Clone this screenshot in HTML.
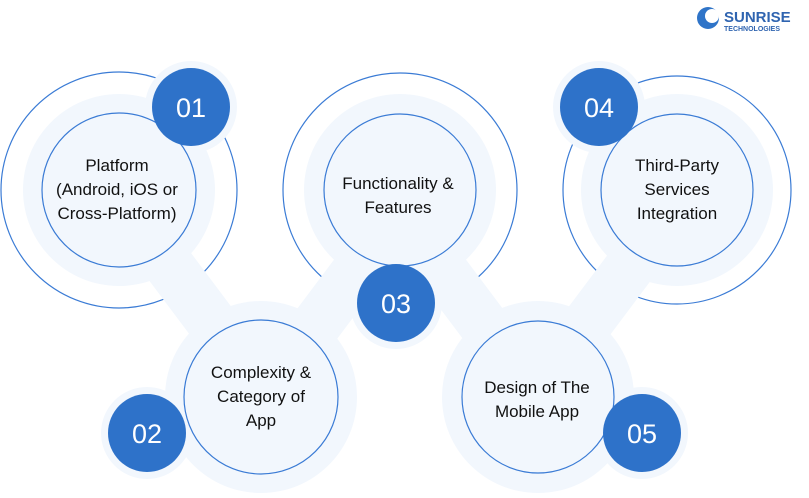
<!DOCTYPE html>
<html><head><style>
body{margin:0;background:#fff;width:809px;height:493px;overflow:hidden;font-family:"Liberation Sans",sans-serif}
</style></head><body>
<svg width="809" height="493" viewBox="0 0 809 493" xmlns="http://www.w3.org/2000/svg">
<g fill="none" stroke="#3a7bd5" stroke-width="1.2">
<circle cx="119" cy="190" r="118"/>
<circle cx="400" cy="190" r="117"/>
<circle cx="677" cy="190" r="114"/>
</g>
<g stroke="#f2f7fd" stroke-width="50" stroke-linecap="round">
<line x1="150" y1="240" x2="240" y2="360"/>
<line x1="380" y1="240" x2="290" y2="360"/>
<line x1="420" y1="240" x2="510" y2="360"/>
<line x1="650" y1="240" x2="560" y2="360"/>
</g>
<g fill="#f2f7fd">
<circle cx="119" cy="190" r="96"/><circle cx="261" cy="397" r="96"/>
<circle cx="400" cy="190" r="96"/><circle cx="538" cy="397" r="96"/>
<circle cx="677" cy="190" r="96"/>
<circle cx="191" cy="107" r="46"/><circle cx="147" cy="433" r="46"/>
<circle cx="396" cy="303" r="46"/><circle cx="599" cy="107" r="46"/>
<circle cx="642" cy="433" r="46"/>
</g>
<g fill="#f2f7fd" stroke="#3a7bd5" stroke-width="1.2">
<circle cx="119" cy="190" r="77"/><circle cx="261" cy="397" r="77"/>
<circle cx="400" cy="190" r="76"/><circle cx="538" cy="397" r="76"/>
<circle cx="677" cy="190" r="76"/>
</g>
<g fill="#2e72c9">
<circle cx="191" cy="107" r="39"/><circle cx="147" cy="433" r="39"/>
<circle cx="396" cy="303" r="39"/><circle cx="599" cy="107" r="39"/>
<circle cx="642" cy="433" r="39"/>
</g>
<g fill="#fff" font-size="27" text-anchor="middle">
<text x="191" y="117">01</text><text x="147" y="443">02</text>
<text x="396" y="313">03</text><text x="599" y="117">04</text>
<text x="642" y="443">05</text>
</g>
<g fill="#111" font-size="17" text-anchor="middle">
<text x="117" y="171">Platform</text><text x="117" y="195">(Android, iOS or</text><text x="117" y="219">Cross-Platform)</text>
<text x="261" y="378">Complexity &amp;</text><text x="261" y="402">Category of</text><text x="261" y="426">App</text>
<text x="398" y="189">Functionality &amp;</text><text x="398" y="213">Features</text>
<text x="677" y="171">Third-Party</text><text x="677" y="195">Services</text><text x="677" y="219">Integration</text>
<text x="537" y="393">Design of The</text><text x="537" y="417">Mobile App</text>
</g>
<circle cx="708" cy="18" r="11" fill="#2f74c8"/><circle cx="712" cy="16" r="7" fill="#fff"/>
<text x="724" y="22" font-size="15" font-weight="bold" fill="#2f64b0">SUNRISE</text>
<text x="724" y="31" font-size="7" font-weight="bold" fill="#2f64b0">TECHNOLOGIES</text>
</svg>
</body></html>
